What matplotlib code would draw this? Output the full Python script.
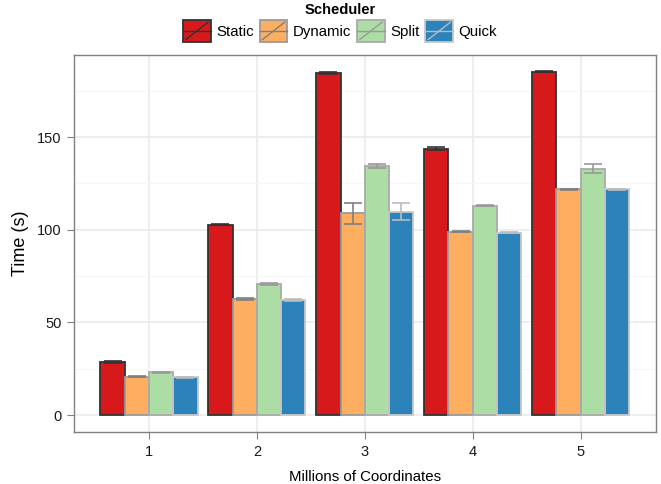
import matplotlib
matplotlib.use("Agg")
import matplotlib.pyplot as plt
import numpy as np
from matplotlib.legend_handler import HandlerBase
from matplotlib.patches import Rectangle
from matplotlib.lines import Line2D

plt.rcParams['font.family'] = ['Liberation Sans', 'DejaVu Sans']

categories = ["1", "2", "3", "4", "5"]
schedulers = ["Static", "Dynamic", "Split", "Quick"]
static_vals = [28.6, 102.6, 184.5, 143.6, 185.1]
dynamic_vals = [20.6, 62.6, 108.8, 98.8, 121.8]
split_vals = [23.0, 70.9, 134.4, 112.9, 132.9]
quick_vals = [20.5, 62.1, 109.8, 98.3, 121.8]
static_err = [0.3, 0.3, 0.3, 0.8, 0.3]
dynamic_err = [0.3, 0.3, 5.6, 0.3, 0.2]
split_err = [0.3, 0.6, 1.0, 0.3, 2.5]
quick_err = [0.3, 0.3, 4.6, 0.3, 0.2]

values = [static_vals, dynamic_vals, split_vals, quick_vals]
errors = [static_err, dynamic_err, split_err, quick_err]
fills = ["#D7191C", "#FDAE61", "#ABDDA4", "#2B83BA"]
edges = ["#333333", "#9a9a9a", "#aaaaaa", "#c8c8c8"]
ecolors = ["#333333", "#808080", "#999999", "#bbbbbb"]

fig = plt.figure(figsize=(6.61, 4.84), dpi=100)
ax = fig.add_axes([74.3/661, (484-432.3)/484, (655.7-74.3)/661, (432.3-54.7)/484])

x = np.arange(1, len(categories) + 1)
bw = 0.225
for i in range(4):
    pos = x + (i - 1.5) * bw
    ax.bar(pos, values[i], width=bw, color=fills[i], edgecolor=edges[i],
           linewidth=1.3, zorder=3)
    ax.errorbar(pos, values[i], yerr=errors[i], fmt='none', ecolor=ecolors[i],
                elinewidth=1.2, capsize=6.5, capthick=1.2, zorder=4)

ax.set_xlim(0.308, 5.695)
ax.set_ylim(-9.3, 194.4)
ax.set_xticks(x)
ax.set_xticklabels(categories)
ax.set_yticks([0, 50, 100, 150])
ax.set_yticks([25, 75, 125, 175], minor=True)
ax.grid(which='major', color='#ebebeb', linewidth=1.2, zorder=0)
ax.grid(which='minor', axis='y', color='#f6f6f6', linewidth=0.8, zorder=0)
ax.set_axisbelow(True)
for s in ax.spines.values():
    s.set_color('#808080')
    s.set_linewidth(1.0)
ax.tick_params(which='major', length=5, color='#808080', labelsize=10.5,
               labelcolor='#1a1a1a', pad=4)
ax.tick_params(which='minor', length=0)
ax.set_xlabel("Millions of Coordinates", fontsize=10.8, labelpad=8)
ax.set_ylabel("Time (s)", fontsize=13, labelpad=6)


class KeyHandler(HandlerBase):
    def __init__(self, fill, edge, line):
        super().__init__()
        self.fill, self.edge, self.line = fill, edge, line

    def create_artists(self, legend, orig_handle, xdescent, ydescent, width,
                       height, fontsize, trans):
        r = Rectangle((-xdescent, -ydescent), width, height, facecolor=self.fill,
                      edgecolor=self.edge, linewidth=1.3, transform=trans)
        l1 = Line2D([-xdescent, -xdescent + width],
                    [-ydescent + height / 2] * 2, color=self.line,
                    linewidth=1.0, transform=trans)
        l2 = Line2D([-xdescent + width * 0.1, -xdescent + width * 0.9],
                    [-ydescent + height * 0.1, -ydescent + height * 0.9],
                    color=self.line, linewidth=1.0, transform=trans)
        return [r, l1, l2]


handles = [Rectangle((0, 0), 1, 1) for _ in schedulers]
hmap = {h: KeyHandler(fills[i], edges[i], ecolors[i]) for i, h in enumerate(handles)}
leg = fig.legend(handles, schedulers, handler_map=hmap, ncol=4,
                 loc='upper center', bbox_to_anchor=(340/661, 1.0),
                 frameon=False, fontsize=10.8, title="Scheduler",
                 title_fontproperties={'weight': 'bold', 'size': 10.6},
                 handlelength=1.85, handleheight=1.85, handletextpad=0.35,
                 columnspacing=0.4, borderaxespad=0.1, borderpad=0.1,
                 labelspacing=0.2)

fig.savefig("out.png", dpi=100)
